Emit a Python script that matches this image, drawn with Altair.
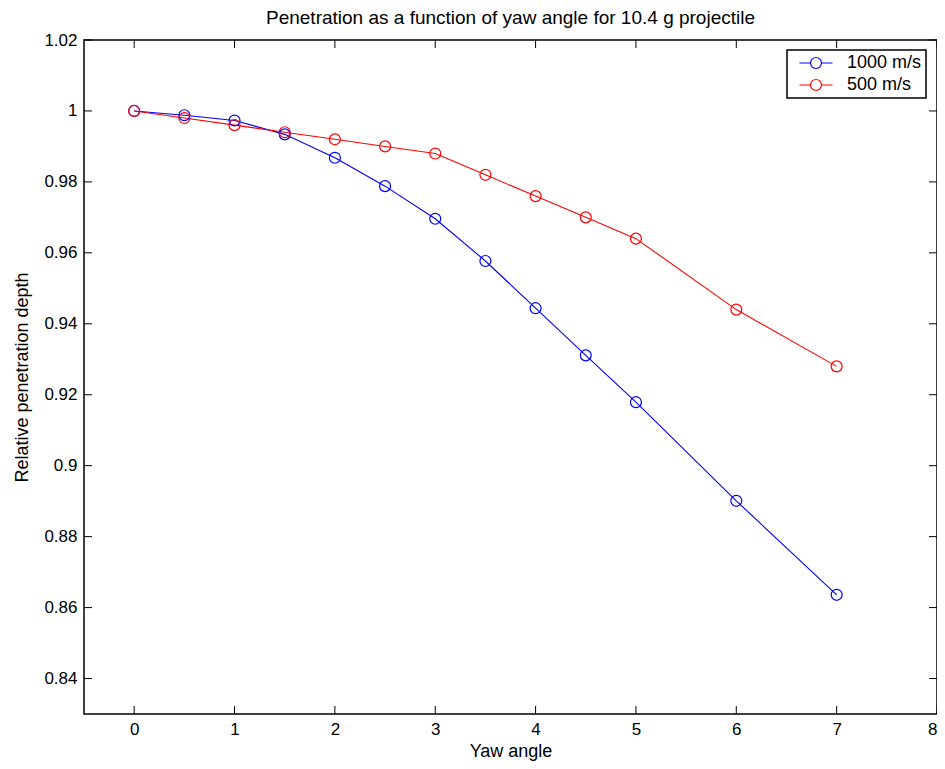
import altair as alt
import pandas as pd

yaw = [0, 0.5, 1, 1.5, 2, 2.5, 3, 3.5, 4, 4.5, 5, 6, 7]
depth_1000 = [1.0, 0.9988, 0.9973, 0.9934, 0.9868, 0.9788, 0.9696, 0.9577, 0.9444, 0.9311, 0.9179, 0.8901, 0.8636]
depth_500 = [1.0, 0.998, 0.996, 0.994, 0.992, 0.990, 0.988, 0.982, 0.976, 0.970, 0.964, 0.944, 0.928]
series = ["1000 m/s", "500 m/s"]
colors = ["#0000ff", "#ff0000"]
x_ticks = [0, 1, 2, 3, 4, 5, 6, 7, 8]
y_ticks = [0.84, 0.86, 0.88, 0.90, 0.92, 0.94, 0.96, 0.98, 1.00, 1.02]

rows = []
for s, vals in zip(series, [depth_1000, depth_500]):
    for x, v in zip(yaw, vals):
        rows.append({"yaw": x, "depth": v, "series": s})
df = pd.DataFrame(rows)

W, H = 853, 674
FONT = "Liberation Sans"
TL = 8

xs = alt.Scale(domain=[-0.5, 8], nice=False, zero=False)
ys = alt.Scale(domain=[0.83, 1.02], nice=False, zero=False)
cs = alt.Scale(domain=series, range=colors)

x_enc = alt.X("yaw:Q", scale=xs, axis=alt.Axis(values=x_ticks, ticks=False, grid=False, title="Yaw angle",
                                                format="d", labelPadding=7, titlePadding=5, domain=False))
y_enc = alt.Y("depth:Q", scale=ys, axis=alt.Axis(values=y_ticks, ticks=False, grid=False,
                                                  title="Relative penetration depth",
                                                  labelExpr="format(datum.value, '~g')",
                                                  labelPadding=7, titlePadding=12, domain=False))

legend = alt.Legend(title=None, orient="none", legendX=703, legendY=10)

lines = alt.Chart(df).mark_line(strokeWidth=1.1).encode(
    x=x_enc, y=y_enc,
    color=alt.Color("series:N", scale=cs, sort=series, legend=legend),
    detail="series:N",
)
points = alt.Chart(df).mark_point(shape="circle", filled=False, size=120, strokeWidth=1.2, opacity=1).encode(
    x="yaw:Q", y="depth:Q",
    color=alt.Color("series:N", scale=cs, sort=series, legend=legend),
)

xt = pd.DataFrame({"v": x_ticks})
yt = pd.DataFrame({"v": y_ticks})
xb = alt.Chart(xt).mark_rule(color="black", strokeWidth=1).encode(
    x=alt.X("v:Q", scale=xs), y=alt.value(H), y2=alt.value(H - TL))
xtop = alt.Chart(xt).mark_rule(color="black", strokeWidth=1).encode(
    x=alt.X("v:Q", scale=xs), y=alt.value(0), y2=alt.value(TL))
yl = alt.Chart(yt).mark_rule(color="black", strokeWidth=1).encode(
    y=alt.Y("v:Q", scale=ys), x=alt.value(0), x2=alt.value(TL))
yr = alt.Chart(yt).mark_rule(color="black", strokeWidth=1).encode(
    y=alt.Y("v:Q", scale=ys), x=alt.value(W), x2=alt.value(W - TL))

sym = "M-3,0L-1,0M1,0L3,0M1,0A1,1,0,1,1,-1,0A1,1,0,1,1,1,0"

chart = alt.layer(xb, xtop, yl, yr, lines, points).properties(
    width=W, height=H,
    title=alt.Title("Penetration as a function of yaw angle for 10.4 g projectile",
                    fontSize=19, fontWeight="normal", font=FONT, offset=3, color="black"),
    autosize=alt.AutoSizeParams(type="none"),
    padding={"left": 76, "top": 32, "right": 0, "bottom": 47},
).configure_view(stroke="black", strokeWidth=1.5).configure_axis(
    labelFont=FONT, titleFont=FONT, labelFontSize=17, titleFontSize=18,
    labelColor="black", titleColor="black", titleFontWeight="normal",
).configure_legend(
    symbolType=sym, symbolSize=121, symbolStrokeWidth=1.2, symbolFillColor="transparent",
    labelFont=FONT, labelFontSize=18, labelColor="black", strokeColor="black", strokeWidth=1.5,
    fillColor="white", padding=4, cornerRadius=0, rowPadding=4, labelOffset=22,
    symbolOffset=16,
)

chart.save("out.html", embed_options={"renderer": "svg", "actions": False})
